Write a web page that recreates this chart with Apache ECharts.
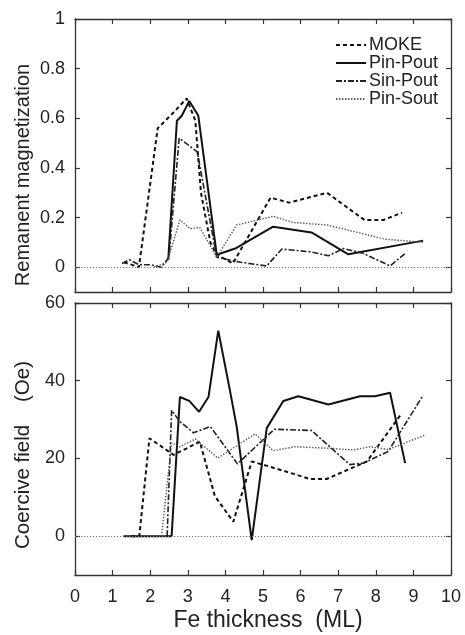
<!DOCTYPE html>
<html>
<head>
<meta charset="utf-8">
<script src="https://cdn.jsdelivr.net/npm/echarts@6/dist/echarts.min.js"></script>
<style>html,body{margin:0;padding:0;background:#fff}#c{width:465px;height:635px}</style>
</head>
<body>
<div id="c"></div>
<script>
// ---- Top panel: remanent magnetization ----
var mokeTopX = [1.3, 1.7, 2.2, 2.6, 2.97, 3.2, 3.35, 3.6, 3.77, 4.2, 5.2, 5.7, 6.7, 7.7, 8.2, 8.7];
var mokeTopY = [0.02, 0.0, 0.56, 0.62, 0.68, 0.59, 0.30, 0.10, 0.05, 0.015, 0.28, 0.26, 0.30, 0.19, 0.19, 0.22];
var ppTopX = [2.48, 2.71, 2.84, 3.04, 3.28, 3.77, 4.26, 5.27, 6.29, 7.27, 9.26];
var ppTopY = [0.03, 0.59, 0.61, 0.67, 0.61, 0.05, 0.075, 0.163, 0.14, 0.052, 0.107];
var spTopX = [1.25, 1.45, 1.7, 2.0, 2.3, 2.5, 2.77, 3.25, 3.77, 4.4, 5.1, 5.5, 6.25, 6.74, 7.14, 7.66, 8.38, 8.78];
var spTopY = [0.015, 0.03, 0.01, 0.01, 0.0, 0.04, 0.52, 0.465, 0.04, 0.02, 0.005, 0.073, 0.062, 0.046, 0.075, 0.056, 0.005, 0.055];
var psTopX = [2.1, 2.45, 2.79, 3.06, 3.32, 3.77, 4.3, 5.27, 5.8, 6.7, 8.24, 9.26];
var psTopY = [0.0, 0.02, 0.19, 0.155, 0.16, 0.04, 0.17, 0.205, 0.18, 0.17, 0.113, 0.10];

// ---- Bottom panel: coercive field ----
var mokeBotX = [1.5, 1.71, 1.98, 2.62, 3.32, 3.72, 4.21, 4.7, 5.0, 5.72, 6.25, 6.69, 7.76, 8.69];
var mokeBotY = [0, 0, 25.2, 20.9, 24.3, 10.3, 3.7, 19.2, 18.4, 16.3, 14.7, 14.7, 19.2, 31.6];
var ppBotX = [1.29, 2.57, 2.79, 3.04, 3.3, 3.55, 3.81, 4.12, 4.3, 4.7, 5.1, 5.54, 5.94, 6.74, 7.58, 7.98, 8.38, 8.78];
var ppBotY = [0, 0, 35.8, 34.8, 32, 35.8, 52.9, 37.5, 28.2, -1, 27.8, 34.8, 36, 33.9, 36, 36, 36.9, 18.8];
var spBotX = [2.45, 2.57, 2.79, 3.15, 3.6, 4.32, 5.3, 6.29, 7.31, 7.67, 8.33, 9.26];
var spBotY = [0, 32.4, 29.5, 26.6, 28.2, 18.6, 27.5, 27.2, 18.4, 18.8, 21.8, 36.3];
var psBotX = [2.3, 2.57, 2.79, 3.2, 3.8, 4.79, 5.27, 5.85, 6.78, 7.4, 7.85, 8.33, 9.31];
var psBotY = [0, 24, 23, 25, 20.1, 26.3, 22, 23, 22.6, 22.2, 23, 22.3, 26];

var xTicks = [0, 1, 2, 3, 4, 5, 6, 7, 8, 9, 10];
var topTicks = [0, 0.2, 0.4, 0.6, 0.8, 1];
var botTicks = [0, 20, 40, 60];

var names = ['MOKE', 'Pin-Pout', 'Sin-Pout', 'Pin-Sout'];

function zip(xs, ys) { return xs.map(function (x, i) { return [x, ys[i]]; }); }

var FONT = 'Liberation Sans, Arial, sans-serif';
var TXT = '#222';
var AX = '#333';

var styles = [
  { color: '#111', width: 2, type: [4, 3] },
  { color: '#111', width: 2, type: 'solid' },
  { color: '#222', width: 1.6, type: [6, 2, 2, 2] },
  { color: '#555', width: 1.4, type: [1.4, 1.6] }
];

function xAx(grid, pos, labels) {
  return {
    type: 'value', gridIndex: grid, position: pos, min: 0, max: 10, interval: 1,
    axisLine: { show: true, onZero: false, lineStyle: { color: AX, width: 1.3 } },
    axisTick: { show: true, inside: true, length: 5, lineStyle: { color: AX, width: 1.2 } },
    axisLabel: { show: labels, fontSize: 18, color: TXT, fontFamily: FONT, margin: 13 },
    splitLine: { show: false }
  };
}
function yAx(grid, pos, min, max, ticks, labels) {
  return {
    type: 'value', gridIndex: grid, position: pos, min: min, max: max,
    axisLine: { show: true, onZero: false, lineStyle: { color: AX, width: 1.3 } },
    axisTick: { show: true, inside: true, length: 5, customValues: ticks, lineStyle: { color: AX, width: 1.2 } },
    axisLabel: { show: labels, customValues: ticks, fontSize: 18, color: TXT, fontFamily: FONT, margin: 10 },
    splitLine: { show: false }
  };
}

var series = [];
var sets = [
  [mokeTopX, mokeTopY, mokeBotX, mokeBotY],
  [ppTopX, ppTopY, ppBotX, ppBotY],
  [spTopX, spTopY, spBotX, spBotY],
  [psTopX, psTopY, psBotX, psBotY]
];
var zeroLine = {
  silent: true, symbol: ['none', 'none'], label: { show: false },
  lineStyle: { color: '#777', width: 1.2, type: [1.2, 1.8] },
  data: [{ yAxis: 0 }]
};
sets.forEach(function (s, i) {
  series.push({
    name: names[i], type: 'line', xAxisIndex: 0, yAxisIndex: 0,
    data: zip(s[0], s[1]), symbol: 'none', showSymbol: false,
    lineStyle: styles[i], itemStyle: { color: styles[i].color }, z: 3 + i,
    markLine: i === 0 ? zeroLine : undefined
  });
  series.push({
    name: names[i], type: 'line', xAxisIndex: 2, yAxisIndex: 2,
    data: zip(s[2], s[3]), symbol: 'none', showSymbol: false,
    lineStyle: styles[i], itemStyle: { color: styles[i].color }, z: 3 + i,
    markLine: i === 0 ? zeroLine : undefined
  });
});

var chart = echarts.init(document.getElementById('c'), null, { renderer: 'canvas' });
chart.setOption({
  animation: false,
  backgroundColor: '#fff',
  grid: [
    { left: 75, top: 19, width: 376, height: 273 },
    { left: 75, top: 303, width: 376, height: 272 }
  ],
  xAxis: [xAx(0, 'bottom', false), xAx(0, 'top', false), xAx(1, 'bottom', true), xAx(1, 'top', false)],
  yAxis: [
    yAx(0, 'left', -0.1, 1, topTicks, true),
    yAx(0, 'right', -0.1, 1, topTicks, false),
    yAx(1, 'left', -10, 60, botTicks, true),
    yAx(1, 'right', -10, 60, botTicks, false)
  ],
  legend: {
    data: names,
    orient: 'vertical', left: 330, top: 31,
    itemWidth: 30, itemHeight: 10, itemGap: 0,
    itemStyle: { color: 'rgba(0,0,0,0)', borderColor: 'rgba(0,0,0,0)', borderWidth: 0 },
    textStyle: { fontSize: 18, color: TXT, fontFamily: FONT, padding: [0, 0, 0, -2] },
    selectedMode: false
  },
  graphic: [
    { type: 'text', x: 268, y: 621, style: { text: 'Fe thickness  (ML)', font: '23px ' + FONT, fill: TXT, align: 'center', verticalAlign: 'middle' } },
    { type: 'text', rotation: Math.PI / 2, x: 23, y: 175, style: { text: 'Remanent magnetization', font: '20px ' + FONT, fill: TXT, align: 'center', verticalAlign: 'middle' } },
    { type: 'text', rotation: Math.PI / 2, x: 23, y: 455, style: { text: 'Coercive field    (Oe)', font: '20.5px ' + FONT, fill: TXT, align: 'center', verticalAlign: 'middle' } }
  ],
  series: series
});
</script>
</body>
</html>
